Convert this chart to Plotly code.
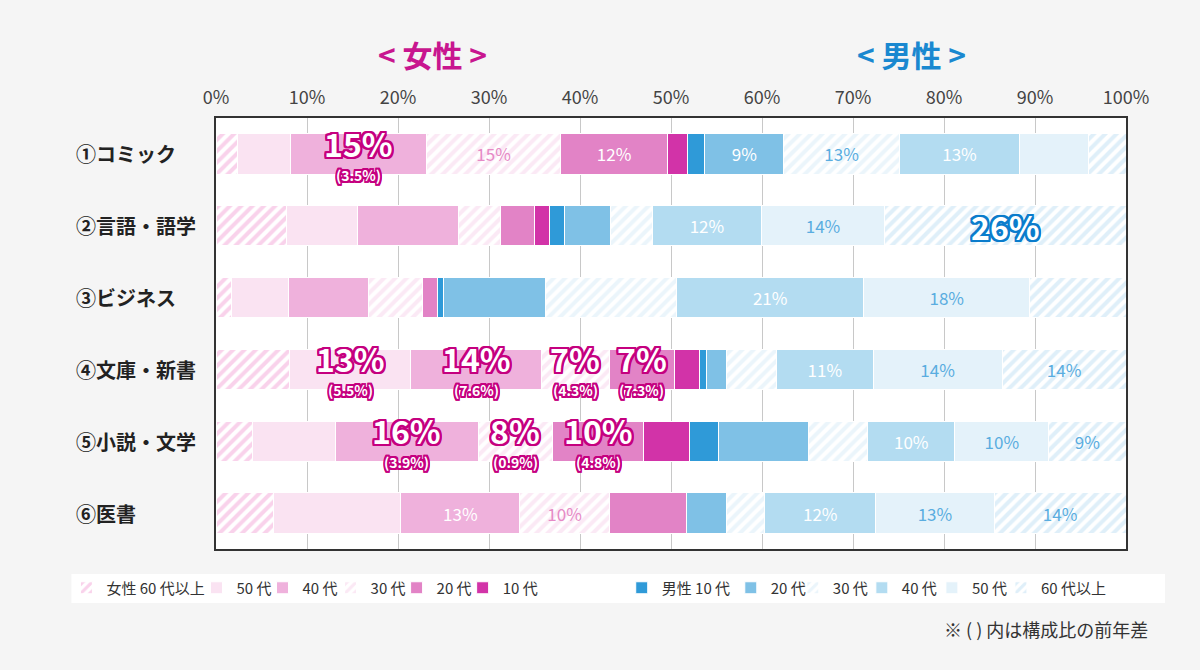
import plotly.graph_objects as go

categories = ["①コミック", "②言語・語学", "③ビジネス", "④文庫・新書", "⑤小説・文学", "⑥医書"]

# composition (%) by gender & age, per category
f60 = [2.4, 7.7, 1.7, 8.1, 4.0, 6.3]
f50 = [5.8, 7.8, 6.3, 13.3, 9.1, 14.0]
f40 = [14.9, 11.2, 8.8, 14.4, 15.7, 13.1]
f30 = [14.8, 4.6, 5.9, 7.4, 8.2, 9.8]
f20 = [11.7, 3.7, 1.6, 7.2, 10.0, 8.5]
f10 = [2.2, 1.6, 0.0, 2.7, 5.0, 0.0]
m10 = [1.9, 1.7, 0.7, 0.8, 3.2, 0.0]
m20 = [8.7, 5.1, 11.2, 2.2, 9.9, 4.4]
m30 = [12.7, 4.6, 14.4, 5.5, 6.5, 4.2]
m40 = [13.2, 11.9, 20.6, 10.6, 9.6, 12.2]
m50 = [7.6, 13.6, 18.2, 14.2, 10.3, 13.0]
m60 = [4.1, 26.5, 10.6, 13.6, 8.5, 14.5]

# plain in-bar labels
lab_f40 = ["", "", "", "", "", "13%"]
lab_f30 = ["15%", "", "", "", "", "10%"]
lab_f20 = ["12%", "", "", "", "", ""]
lab_m20 = ["9%", "", "", "", "", ""]
lab_m30 = ["13%", "", "", "", "", ""]
lab_m40 = ["13%", "12%", "21%", "11%", "10%", "12%"]
lab_m50 = ["", "14%", "18%", "14%", "10%", "13%"]
lab_m60 = ["", "", "", "14%", "9%", "14%"]
empty = [""] * 6

# highlighted labels: (category index, segment index, value, year-on-year diff)
highlights = [
    (0, 2, "15%", "(3.5%)"),
    (3, 1, "13%", "(5.5%)"),
    (3, 2, "14%", "(7.6%)"),
    (3, 3, "7%", "(4.3%)"),
    (3, 4, "7%", "(7.3%)"),
    (4, 2, "16%", "(3.9%)"),
    (4, 3, "8%", "(0.9%)"),
    (4, 4, "10%", "(4.8%)"),
]
blue_highlights = [(1, 11, "26%")]

FONT = "Noto Sans CJK JP"
PINK_TXT = "#e68ac6"
BLUE_TXT = "#5aade0"

series = [
    ("女性 60 代以上", f60, "#ffffff", "#f3a6d8", empty, "#ffffff"),
    ("50 代", f50, "#fae3f2", None, empty, "#ffffff"),
    ("40 代", f40, "#efb1dc", None, lab_f40, "#ffffff"),
    ("30 代", f30, "#ffffff", "#f8d3eb", lab_f30, PINK_TXT),
    ("20 代", f20, "#e283c6", None, lab_f20, "#ffffff"),
    ("10 代", f10, "#d233a8", None, empty, "#ffffff"),
    ("男性 10 代", m10, "#2f9ad8", None, empty, "#ffffff"),
    ("20 代", m20, "#7fc1e6", None, lab_m20, "#ffffff"),
    ("30 代", m30, "#ffffff", "#d8ecf8", lab_m30, BLUE_TXT),
    ("40 代", m40, "#b3dcf1", None, lab_m40, "#ffffff"),
    ("50 代", m50, "#e4f2fa", None, lab_m50, BLUE_TXT),
    ("60 代以上", m60, "#ffffff", "#bfe0f3", lab_m60, BLUE_TXT),
]

# legend entry positions (px, left edge of symbol)
legend_px = [83, 213, 279, 347, 413, 479, 638, 747, 809, 878, 948, 1017]

fig = go.Figure()
legend_layouts = {}
for i, (name, vals, col, hatch, labels, tcol) in enumerate(series):
    leg = "legend" if i == 0 else f"legend{i + 1}"
    marker = dict(color=col, line=dict(color="#ffffff", width=1))
    if hatch:
        marker["pattern"] = dict(shape="/", fgcolor=hatch, bgcolor="#ffffff", size=8, solidity=0.5)
    fig.add_trace(go.Bar(
        y=categories, x=vals, orientation="h", name=name, marker=marker, legend=leg,
        text=labels, textposition="inside", insidetextanchor="middle", textangle=0,
        textfont=dict(family=FONT, size=17, color=tcol),
    ))
    legend_layouts[leg] = dict(orientation="h", yanchor="middle", y=(549 - 588) / 431, xanchor="left",
                               x=(legend_px[i] - 16 - 216.5) / 909.5,
                               bgcolor="rgba(0,0,0,0)", font=dict(family=FONT, size=15, color="#333333"),
                               itemwidth=30)


def outline(c, w=2):
    offs = [(w, 0), (-w, 0), (0, w), (0, -w), (w, w), (-w, w), (w, -w), (-w, -w),
            (w, w / 2), (-w, w / 2), (w, -w / 2), (-w, -w / 2),
            (w / 2, w), (-w / 2, w), (w / 2, -w), (-w / 2, -w)]
    return ", ".join(f"{a}px {b}px 0 {c}" for a, b in offs)


seg_lists = [s[1] for s in series]
annotations = []
for ci, si, main, diff in highlights:
    start = sum(seg_lists[k][ci] for k in range(si))
    xc = start + seg_lists[si][ci] / 2
    annotations.append(dict(x=xc, y=categories[ci], xref="x", yref="y", text=f"<b>{main}</b>",
                            showarrow=False, yshift=11,
                            font=dict(family=FONT, size=32, color="#ffffff", shadow=outline("#c5007f", 2))))
    annotations.append(dict(x=xc, y=categories[ci], xref="x", yref="y", text=f"<b>{diff}</b>",
                            showarrow=False, yshift=-21,
                            font=dict(family=FONT, size=14, color="#ffffff", shadow=outline("#c5007f", 1.6))))
for ci, si, main in blue_highlights:
    start = sum(seg_lists[k][ci] for k in range(si))
    xc = start + seg_lists[si][ci] / 2
    annotations.append(dict(x=xc, y=categories[ci], xref="x", yref="y", text=f"<b>{main}</b>",
                            showarrow=False,
                            font=dict(family=FONT, size=32, color="#ffffff", shadow=outline("#0a7ccc", 2))))

for c in categories:
    annotations.append(dict(x=(75 - 216.5) / 909.5, y=c, xref="paper", yref="y", text=f"<b>{c}</b>",
                            xanchor="left", showarrow=False,
                            font=dict(family=FONT, size=20, color="#222222")))

annotations += [
    dict(x=(433 - 216.5) / 909.5, y=1 + (118 - 54) / 431, xref="paper", yref="paper", text="<b>&lt; 女性 &gt;</b>",
         xanchor="center", yanchor="middle", showarrow=False, font=dict(family=FONT, size=30, color="#c8168f")),
    dict(x=(912 - 216.5) / 909.5, y=1 + (118 - 54) / 431, xref="paper", yref="paper", text="<b>&lt; 男性 &gt;</b>",
         xanchor="center", yanchor="middle", showarrow=False, font=dict(family=FONT, size=30, color="#1a88d0")),
    dict(x=(1150 - 216.5) / 909.5, y=(549 - 629) / 431, xref="paper", yref="paper", text="※ ( ) 内は構成比の前年差",
         xanchor="right", yanchor="middle", showarrow=False, font=dict(family=FONT, size=18, color="#333333")),
]

shapes = [dict(type="rect", xref="paper", yref="paper", layer="above",
               x0=(72 - 216.5) / 909.5, x1=(1165 - 216.5) / 909.5,
               y0=(549 - 574) / 431, y1=(549 - 603) / 431,
               fillcolor="#ffffff", line=dict(width=0))]

fig.update_layout(
    width=1200, height=670,
    barmode="stack", bargap=0.44,
    paper_bgcolor="#f5f5f5", plot_bgcolor="#ffffff",
    margin=dict(l=216, r=74, t=118, b=121, autoexpand=False),
    font=dict(family=FONT, color="#333333"),
    uniformtext=dict(minsize=17, mode="show"),
    xaxis=dict(range=[0, 100], side="top", ticksuffix="%", dtick=10, showgrid=True,
               gridcolor="#c8c8c8", gridwidth=1, zeroline=False, ticklabelstandoff=5,
               showline=True, linecolor="#333333", linewidth=2, mirror=True,
               tickfont=dict(family=FONT, size=18, color="#444444")),
    yaxis=dict(autorange="reversed", showticklabels=False, showline=True, linecolor="#333333",
               linewidth=2, mirror=True, showgrid=False),
    showlegend=True,
    shapes=shapes,
    annotations=annotations,
    **legend_layouts,
)

fig.write_html("out.html", config={"displayModeBar": False},
               post_script="document.body.style.margin='0px';document.body.style.overflow='hidden';")
